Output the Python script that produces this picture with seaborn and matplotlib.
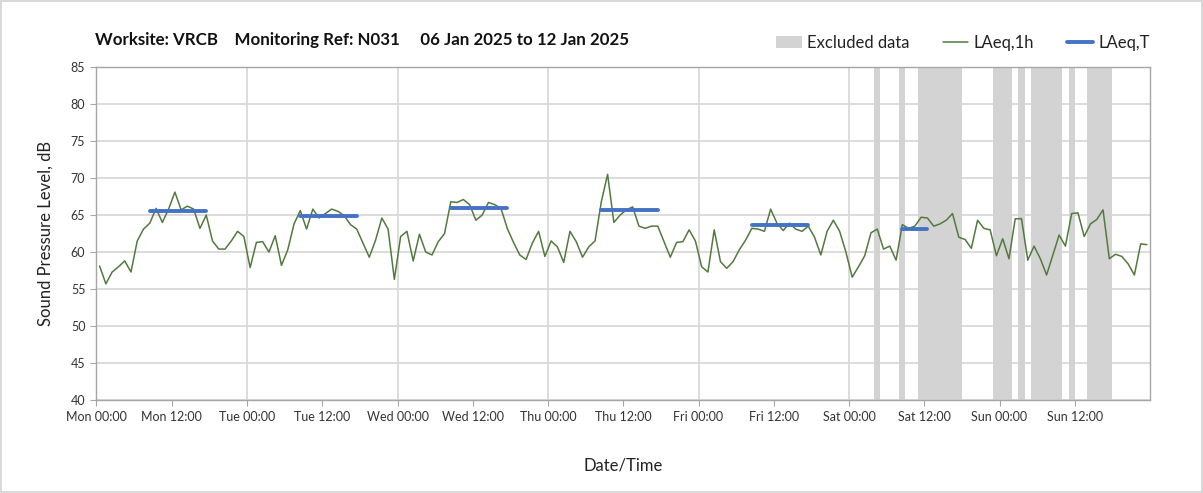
#%% imports
import numpy as np
import pandas as pd
import matplotlib
matplotlib.use("Agg")
import matplotlib.pyplot as plt
from matplotlib.patches import Patch
from matplotlib.lines import Line2D
import seaborn as sns

#%% data (hourly LAeq, Mon 00:00 -> Sun 23:00)
laeq_1h = [
    58.1, 55.7, 57.3, 58.0, 58.8, 57.3, 61.5, 63.1, 63.9, 65.9, 64.0, 65.8, 68.1, 65.7,
    66.2, 65.8, 63.2, 65.0, 61.5, 60.4, 60.4, 61.5, 62.8, 62.1, 57.9, 61.3, 61.4, 60.0,
    62.2, 58.2, 60.3, 63.8, 65.6, 63.1, 65.8, 64.6, 65.2, 65.8, 65.5, 64.9, 63.7, 63.1,
    61.2, 59.3, 61.6, 64.6, 63.1, 56.3, 62.1, 62.8, 58.8, 62.4, 60.0, 59.6, 61.4, 62.5,
    66.8, 66.7, 67.1, 66.4, 64.3, 65.0, 66.7, 66.4, 65.9, 63.2, 61.3, 59.6, 59.0, 61.2,
    62.8, 59.4, 61.5, 60.7, 58.6, 62.8, 61.4, 59.3, 60.7, 61.5, 66.8, 70.5, 64.0, 65.0,
    65.7, 66.1, 63.5, 63.2, 63.5, 63.5, 61.4, 59.3, 61.3, 61.4, 63.0, 61.5, 58.0, 57.3,
    63.0, 58.7, 57.8, 58.7, 60.3, 61.6, 63.2, 63.1, 62.8, 65.8, 63.9, 62.9, 63.9, 63.1,
    62.8, 63.5, 62.0, 59.6, 62.8, 64.3, 62.8, 60.0, 56.6, 58.0, 59.5, 62.6, 63.1, 60.4,
    60.8, 58.9, 63.7, 63.2, 63.5, 64.7, 64.6, 63.5, 63.8, 64.3, 65.2, 62.0, 61.7, 60.5,
    64.3, 63.2, 63.0, 59.5, 61.8, 59.1, 64.5, 64.5, 58.9, 60.8, 59.1, 56.9, 59.6, 62.3,
    60.8, 65.2, 65.3, 62.1, 63.8, 64.4, 65.7, 59.1, 59.7, 59.4, 58.4, 56.9, 61.1, 61.0,
]

# LAeq,T periods (hours from Mon 00:00)
period_start = [8.5, 32.5, 56.5, 80.5, 104.5, 128.5]
period_end = [17.5, 41.5, 65.5, 89.5, 113.5, 132.5]
period_laeq = [65.6, 64.9, 66.0, 65.7, 63.7, 63.1]

# excluded data (hours from Mon 00:00)
excl_start = [124, 128, 131, 143, 147, 149, 155, 158]
excl_end = [125, 129, 138, 146, 148, 154, 156, 162]

days = ["Mon", "Tue", "Wed", "Thu", "Fri", "Sat", "Sun"]
tick_labels = [f"{d} {t}" for d in days for t in ["00:00", "12:00"]]

#%% frames for seaborn
hourly = pd.DataFrame({"hour": np.arange(len(laeq_1h)) + 0.5, "level": laeq_1h})

rows = []
for k, (s, e, v) in enumerate(zip(period_start, period_end, period_laeq)):
    rows.append({"period": k, "hour": s, "level": v})
    rows.append({"period": k, "hour": e, "level": v})
periods = pd.DataFrame(rows)

#%% plot
sns.set_theme(style="white")
plt.rcParams["font.family"] = ["Lato", "DejaVu Sans"]

green = "#537a3e"
blue = "#4472c4"
grey_band = "#d3d3d3"

fig = plt.figure(figsize=(12.03, 4.93), dpi=100)
fig.patch.set_edgecolor("#d9d9d9")
fig.patch.set_linewidth(1.5)
ax = fig.add_axes([0.0802, 0.1886, 0.8758, 0.6754])

for s, e in zip(excl_start, excl_end):
    ax.axvspan(s, e, color=grey_band, lw=0, zorder=1)

sns.lineplot(data=hourly, x="hour", y="level", color=green, lw=1.1,
             ax=ax, zorder=3, legend=False)
sns.lineplot(data=periods, x="hour", y="level", units="period", estimator=None,
             color=blue, lw=2.8, ax=ax, zorder=4, legend=False)

ax.set_xlim(0, 168)
ax.set_ylim(40, 85)
ax.set_yticks(np.arange(40, 86, 5))
ax.set_xticks(np.arange(0, 168, 12))
ax.set_xticklabels(tick_labels, fontsize=9, color="#333333")
ax.tick_params(axis="y", labelsize=9, labelcolor="#333333")
ax.tick_params(axis="both", direction="out", length=4, width=0.8,
               color="#a6a6a6", bottom=True, left=True, pad=4)

ax.grid(axis="y", color="#d9d9d9", lw=1.3, zorder=0)
for d in range(24, 168, 24):
    ax.axvline(d, color="#d9d9d9", lw=1.3, zorder=0)
ax.set_axisbelow(True)
for sp in ax.spines.values():
    sp.set_color("#a6a6a6")
    sp.set_linewidth(1.0)

ax.set_xlabel("Date/Time", fontsize=12, color="#222222", labelpad=25)
ax.set_ylabel("Sound Pressure Level, dB", fontsize=12, color="#222222", labelpad=12)

fig.text(0.079, 0.919,
         "Worksite: VRCB    Monitoring Ref: N031     06 Jan 2025 to 12 Jan 2025",
         fontsize=12.2, fontweight="bold", color="#111111", va="center", ha="left")

handles = [
    Patch(facecolor=grey_band, edgecolor="none"),
    Line2D([0], [0], color=green, lw=1.1),
    Line2D([0], [0], color=blue, lw=2.8),
]
fig.legend(handles, ["Excluded data", "LAeq,1h", "LAeq,T"], loc="center right",
           bbox_to_anchor=(0.968, 0.913), ncol=3, frameon=False, fontsize=12,
           handlelength=1.55, handleheight=0.7, columnspacing=2.0, handletextpad=0.3,
           labelcolor="#222222")

fig.savefig("out.png", dpi=100)
